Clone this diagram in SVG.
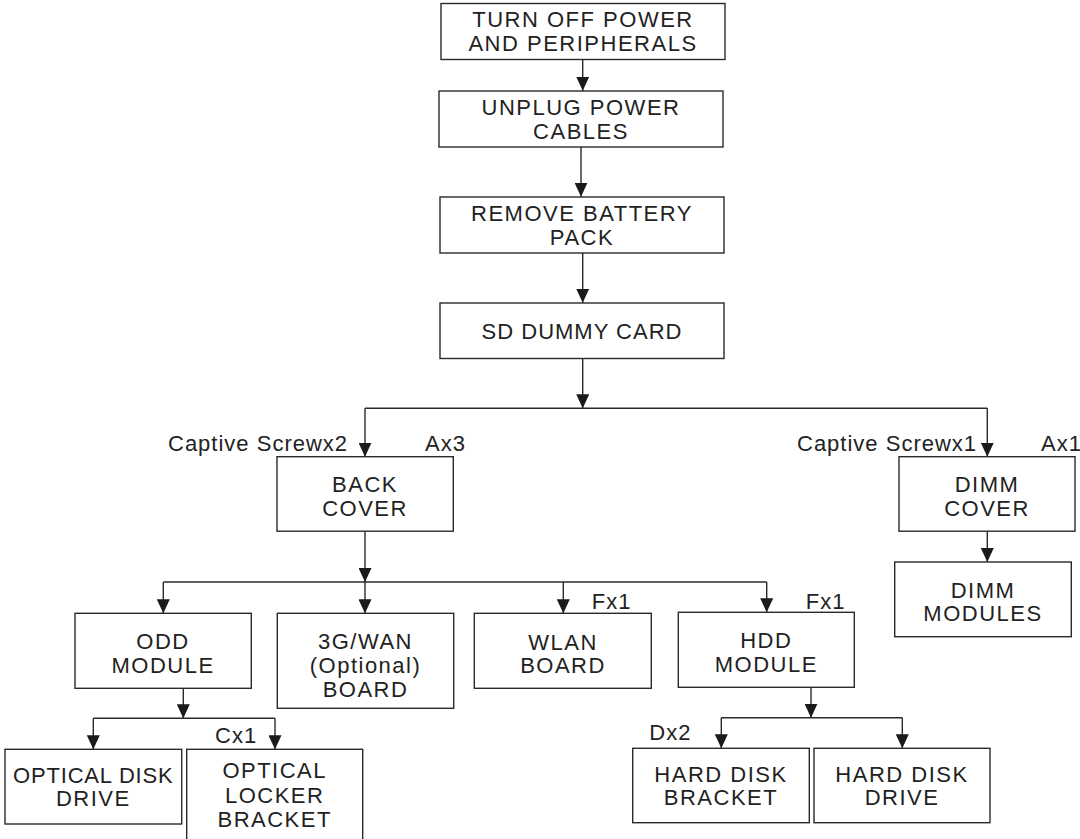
<svg xmlns="http://www.w3.org/2000/svg" width="1080" height="839" viewBox="0 0 1080 839">
<defs>
<style>
.box{fill:#fff;stroke:#2a2a2a;stroke-width:1.4}
.t{font-family:"Liberation Sans",Arial,sans-serif;font-size:22px;fill:#222;text-anchor:middle;letter-spacing:1.5px}
.l{font-family:"Liberation Sans",Arial,sans-serif;font-size:22px;fill:#222;letter-spacing:1px}
.c{fill:none;stroke:#2a2a2a;stroke-width:1.4}
.a{fill:none;stroke:#2a2a2a;stroke-width:1.4;marker-end:url(#ah)}
</style>
<marker id="ah" markerUnits="userSpaceOnUse" viewBox="0 0 14 13" markerWidth="14" markerHeight="13" refX="14" refY="6.5" orient="auto">
<path d="M0,0 L14,6.5 L0,13 z" fill="#1a1a1a"/>
</marker>
</defs>
<rect width="1080" height="839" fill="#fff"/>
<g id="connectors">
<line class="a" x1="582.7" y1="59.3" x2="582.7" y2="90.7"/>
<line class="a" x1="581" y1="147" x2="581" y2="196.7"/>
<line class="a" x1="582.7" y1="252.7" x2="582.7" y2="302.7"/>
<line class="a" x1="582.7" y1="358.3" x2="582.7" y2="408.3"/>
<line class="c" x1="365" y1="408.3" x2="987.3" y2="408.3"/>
<line class="a" x1="365" y1="408.3" x2="365" y2="456.7"/>
<line class="a" x1="987.3" y1="408.3" x2="987.3" y2="456.7"/>
<line class="a" x1="365" y1="531.2" x2="365" y2="582"/>
<line class="c" x1="163.3" y1="582" x2="766.7" y2="582"/>
<line class="a" x1="163.3" y1="582" x2="163.3" y2="613.3"/>
<line class="a" x1="365" y1="582" x2="365" y2="613.3"/>
<line class="a" x1="563.3" y1="582" x2="563.3" y2="613.3"/>
<line class="a" x1="766.7" y1="582" x2="766.7" y2="612.3"/>
<line class="a" x1="987.3" y1="531.2" x2="987.3" y2="562"/>
<line class="a" x1="183.3" y1="688.3" x2="183.3" y2="718.3"/>
<line class="c" x1="93.3" y1="718.3" x2="275" y2="718.3"/>
<line class="a" x1="93.3" y1="718.3" x2="93.3" y2="749.3"/>
<line class="a" x1="275" y1="718.3" x2="275" y2="749.3"/>
<line class="a" x1="811" y1="687.3" x2="811" y2="717.7"/>
<line class="c" x1="721.3" y1="717.7" x2="902.3" y2="717.7"/>
<line class="a" x1="721.3" y1="717.7" x2="721.3" y2="748.3"/>
<line class="a" x1="902.3" y1="717.7" x2="902.3" y2="748.3"/>
</g>
<g id="labels">
<text class="l" x="168" y="451">Captive Screwx2</text>
<text class="l" x="425" y="451">Ax3</text>
<text class="l" x="797" y="451">Captive Screwx1</text>
<text class="l" x="1041" y="451">Ax1</text>
<text class="l" x="591.7" y="609.3">Fx1</text>
<text class="l" x="805.7" y="609">Fx1</text>
<text class="l" x="215" y="743.3">Cx1</text>
<text class="l" x="649.3" y="740">Dx2</text>
</g>
<g id="n1">
<rect class="box" x="441" y="3.5" width="284" height="56"/>
<text class="t" x="583" y="26.7">TURN OFF POWER</text>
<text class="t" x="583" y="50.7">AND PERIPHERALS</text>
</g>
<g id="n2">
<rect class="box" x="439" y="91" width="284" height="56"/>
<text class="t" x="581" y="115">UNPLUG POWER</text>
<text class="t" x="581" y="138.5">CABLES</text>
</g>
<g id="n3">
<rect class="box" x="440" y="197" width="284" height="56"/>
<text class="t" x="582" y="221">REMOVE BATTERY</text>
<text class="t" x="582" y="245">PACK</text>
</g>
<g id="n4">
<rect class="box" x="440" y="303" width="284" height="55.5"/>
<text class="t" x="582" y="339" style="letter-spacing:1px">SD DUMMY CARD</text>
</g>
<g id="n5">
<rect class="box" x="277" y="456.7" width="176.3" height="74.5"/>
<text class="t" x="365" y="491.7">BACK</text>
<text class="t" x="365" y="516">COVER</text>
</g>
<g id="n6">
<rect class="box" x="899" y="456.7" width="176" height="74.5"/>
<text class="t" x="987" y="491.7">DIMM</text>
<text class="t" x="987" y="515.7">COVER</text>
</g>
<g id="n7">
<rect class="box" x="894.7" y="562" width="176.6" height="74.7"/>
<text class="t" x="983" y="597.7">DIMM</text>
<text class="t" x="983" y="620.7">MODULES</text>
</g>
<g id="n8">
<rect class="box" x="75" y="613.3" width="176.3" height="75"/>
<text class="t" x="163" y="649.3">ODD</text>
<text class="t" x="163" y="673.3">MODULE</text>
</g>
<g id="n9">
<rect class="box" x="277.3" y="613.3" width="176.4" height="95"/>
<text class="t" x="365.5" y="649.3">3G/WAN</text>
<text class="t" x="365.5" y="673.3">(Optional)</text>
<text class="t" x="365.5" y="696.5">BOARD</text>
</g>
<g id="n10">
<rect class="box" x="474.3" y="613.3" width="177" height="75"/>
<text class="t" x="563" y="650">WLAN</text>
<text class="t" x="563" y="672.7">BOARD</text>
</g>
<g id="n11">
<rect class="box" x="678.3" y="612.3" width="176" height="75"/>
<text class="t" x="766.3" y="648.3">HDD</text>
<text class="t" x="766.3" y="671.7">MODULE</text>
</g>
<g id="n12">
<rect class="box" x="5" y="749.3" width="176.7" height="74.7"/>
<text class="t" x="93.3" y="783.3" style="letter-spacing:0.8px">OPTICAL DISK</text>
<text class="t" x="93.3" y="806">DRIVE</text>
</g>
<g id="n13">
<rect class="box" x="186.7" y="749.3" width="176" height="120"/>
<text class="t" x="274.7" y="778.3">OPTICAL</text>
<text class="t" x="274.7" y="802.7">LOCKER</text>
<text class="t" x="274.7" y="826.7">BRACKET</text>
</g>
<g id="n14">
<rect class="box" x="632.7" y="748.3" width="176.6" height="74.4"/>
<text class="t" x="721" y="781.7">HARD DISK</text>
<text class="t" x="721" y="805">BRACKET</text>
</g>
<g id="n15">
<rect class="box" x="814" y="748.3" width="176" height="74.4"/>
<text class="t" x="902" y="781.7">HARD DISK</text>
<text class="t" x="902" y="805">DRIVE</text>
</g>
</svg>
